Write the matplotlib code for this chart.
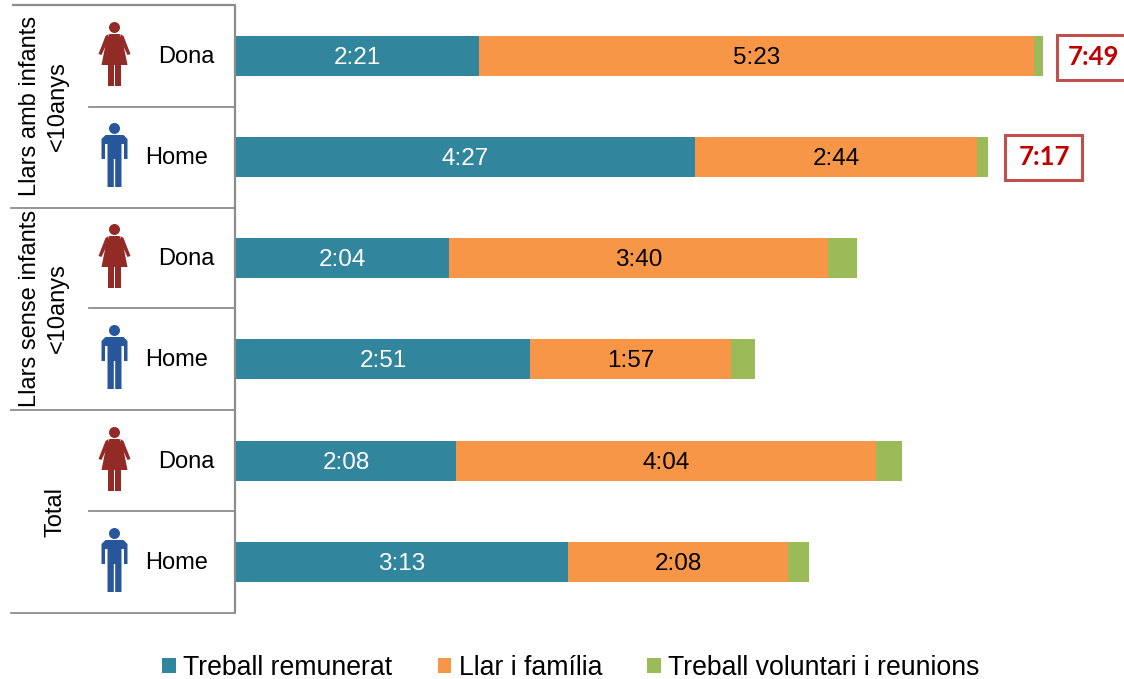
"""Time use bars per household type and sex, with table-like row labels on the left."""
import matplotlib
matplotlib.use("Agg")
import matplotlib.pyplot as plt
from matplotlib.patches import Circle, Polygon, Rectangle

W, H = 1124, 679

TEAL = "#31859C"
ORANGE = "#F79646"
GREEN = "#9BBB59"
LINE = "#8C8C8C"
WOMAN = "#922B25"
MAN = "#27579A"
BOX = "#C0504D"
BOX_TEXT = "#C00000"

# minutes per day, top row first
sexes = ["Dona", "Home", "Dona", "Home", "Dona", "Home"]
paid = [141, 267, 124, 171, 128, 193]
home = [323, 164, 220, 117, 244, 128]
volunteer = [5, 6, 17, 14, 15, 12]
paid_labels = ["2:21", "4:27", "2:04", "2:51", "2:08", "3:13"]
home_labels = ["5:23", "2:44", "3:40", "1:57", "4:04", "2:08"]
groups = ["Llars amb infants\n<10anys", "Llars sense infants\n<10anys", "Total"]
totals = ["7:49", "7:17"]
series_names = ["Treball remunerat", "Llar i família", "Treball voluntari i reunions"]

PX_PER_MIN = 1.72
ROW_Y = [56, 157, 258, 359, 461, 562]
LEFT = 236


def woman(ov, cx, top):
    ov.add_patch(Circle((cx, top + 5.5), 5.5, color=WOMAN, lw=0))
    torso = [(-5, 12), (5, 12), (8, 18), (13, 43), (-13, 43), (-8, 18)]
    ov.add_patch(Polygon([(cx + x, top + y) for x, y in torso], color=WOMAN, lw=0))
    arm = [(6, 12), (9, 14), (16, 32), (13, 33), (7, 20)]
    for s in (1, -1):
        ov.add_patch(Polygon([(cx + s * x, top + y) for x, y in arm], color=WOMAN, lw=0))
        ov.add_patch(Rectangle((cx + (0.8 if s > 0 else -6.3), top + 43), 5.5, 21,
                               color=WOMAN, lw=0))


def man(ov, cx, top):
    ov.add_patch(Circle((cx, top + 5.5), 5.5, color=MAN, lw=0))
    pts = [(-9, 12), (9, 12), (13, 16), (13, 36), (9.5, 36), (9.5, 21), (7, 21),
           (7, 64), (0.7, 64), (0.7, 36), (-0.7, 36), (-0.7, 64), (-7, 64), (-7, 21),
           (-9.5, 21), (-9.5, 36), (-13, 36), (-13, 16)]
    ov.add_patch(Polygon([(cx + x, top + y) for x, y in pts], color=MAN, lw=0))


def main():
    plt.rcParams["font.family"] = ["Liberation Sans", "DejaVu Sans"]
    fig = plt.figure(figsize=(W / 100, H / 100), dpi=100)

    # pixel overlay for the table lines, icons and boxes
    ov = fig.add_axes([0, 0, 1, 1])
    ov.set_xlim(0, W)
    ov.set_ylim(H, 0)
    ov.axis("off")

    # bar axes: same pixel rows, x in minutes
    ax = fig.add_axes([LEFT / W, 0, 1 - LEFT / W, 1])
    ax.patch.set_alpha(0)
    ax.set_xlim(0, (W - LEFT) / PX_PER_MIN)
    ax.set_ylim(H, 0)
    ax.axis("off")

    left2 = paid
    left3 = [a + b for a, b in zip(paid, home)]
    b1 = ax.barh(ROW_Y, paid, height=40, color=TEAL, label=series_names[0])
    b2 = ax.barh(ROW_Y, home, left=left2, height=40, color=ORANGE, label=series_names[1])
    b3 = ax.barh(ROW_Y, volunteer, left=left3, height=40, color=GREEN, label=series_names[2])

    for y, p, h, pl, hl in zip(ROW_Y, paid, home, paid_labels, home_labels):
        ax.text(p / 2, y + 2, pl, ha="center", va="center", color="white", fontsize=17.5)
        ax.text(p + h / 2, y + 2, hl, ha="center", va="center", color="black", fontsize=17.5)

    # table grid
    ov.plot([12, 235, 235], [5, 5, 613], color=LINE, lw=1.6, solid_capstyle="butt")
    for y in (106.5, 308, 511):
        ov.plot([89, 235], [y, y], color=LINE, lw=1.3)
    for y in (208, 410, 613):
        ov.plot([11, 235], [y, y], color=LINE, lw=1.3)

    for y, sex in zip(ROW_Y, sexes):
        ov.text(215 if sex == "Dona" else 208, y + 1, sex, ha="right", va="center", fontsize=17)
        if sex == "Dona":
            woman(ov, 114.5, y - 34)
        else:
            man(ov, 114.5, y - 34)

    for gx, gy, name in zip((44, 44, 56), (106, 308, 512), groups):
        ov.text(gx, gy, name, rotation=90, ha="center", va="center", fontsize=17,
                linespacing=1.35, multialignment="center")

    # total boxes, the first one runs off the picture
    for (x0, x1, y0, y1), txt, tx in zip([(1057, 1130, 34.5, 80), (1004.5, 1082, 134.5, 180)],
                                         totals, (1093.5, 1045)):
        ov.add_patch(Rectangle((x0, y0), x1 - x0, y1 - y0, fc="white", ec=BOX, lw=2.2))
        ov.text(tx, (y0 + y1) / 2, txt, ha="center", va="center",
                color=BOX_TEXT, fontsize=18.5, fontweight="bold", family="Lato")

    fig.legend(handles=[b1, b2, b3], loc="center", bbox_to_anchor=(571 / W, 1 - 668 / H),
               ncol=3, frameon=False, fontsize=19.2, handlelength=0.5, handleheight=0.5,
               handletextpad=0.28, columnspacing=1.7)

    fig.savefig("out.png", dpi=100)


if __name__ == "__main__":
    main()
